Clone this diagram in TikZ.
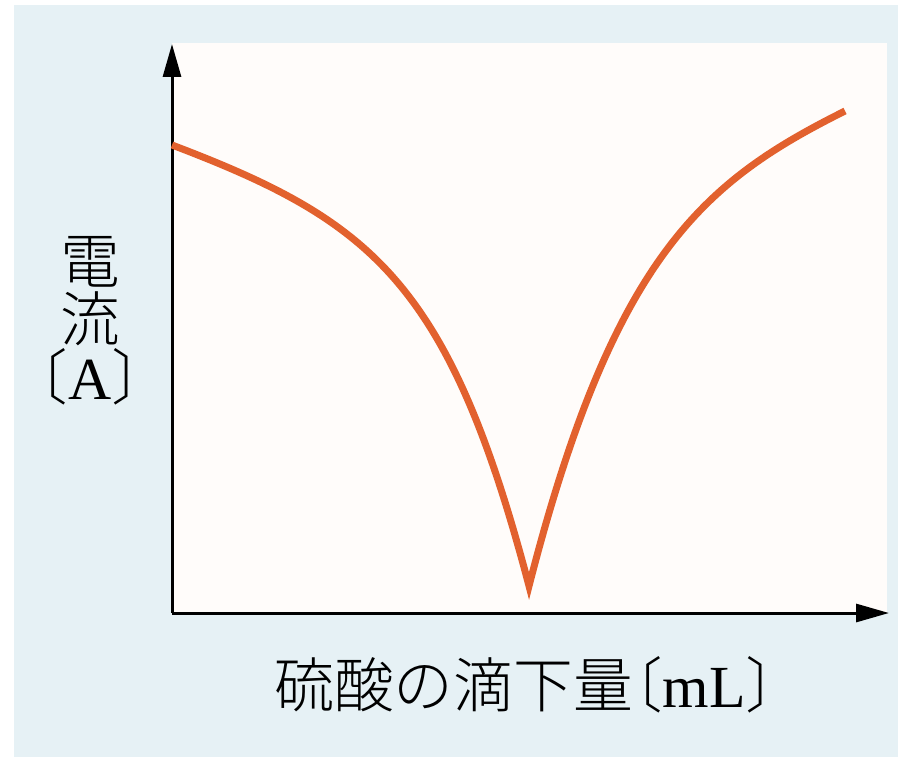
\documentclass[tikz,border=0pt]{standalone}
\usepackage{fontspec}
\setmainfont{Liberation Serif}
\newfontfamily\cjk[RawFeature=+halt]{Noto Sans CJK JP Light}
\usetikzlibrary{arrows.meta}

\definecolor{panelblue}{HTML}{E6F1F5}
\definecolor{paperwhite}{HTML}{FFFCFA}
\definecolor{curveorange}{HTML}{E2612E}

\tikzset{
  axis/.style={line width=0.06cm, -{Triangle[length=0.66cm,width=0.36cm]}},
  curve/.style={line width=0.14cm, curveorange, line join=miter, miter limit=20},
  axislabel/.style={inner sep=0pt, font=\fontsize{34}{33}\selectfont}
}

\begin{document}
\begin{tikzpicture}[x=0.02cm, y=-0.02cm]

      \useasboundingbox (0,0) rectangle (898,757);
      \fill[white] (0,0) rectangle (898,757);
      \fill[panelblue] (14,5) rectangle (898,757);
      \fill[paperwhite] (172,43) rectangle (887,613);

      \coordinate (O) at (172,613);
      \coordinate (ytip) at (172,44);
      \coordinate (xtip) at (889,613);

      %Axes
      \draw[axis] (O) -- (ytip);
      \draw[axis] (O) -- (xtip);

      %Current curve
      \coordinate (start) at (172,145);
      \coordinate (low) at (529,586);
      \coordinate (end) at (845,111);
      \draw[curve] (start) .. controls (372,221) and (449,282) .. (low)
                           .. controls (614,254) and (705,181) .. (end);

      \node (ylabel) [axislabel, align=center] at (90,321)
            {\cjk 電\\\cjk 流\\\cjk 〔\rmfamily A\cjk 〕};
      \node (xlabel) [axislabel] at (525,685)
            {\cjk 硫酸の滴下量〔\rmfamily mL\cjk 〕};

\end{tikzpicture}
\end{document}
